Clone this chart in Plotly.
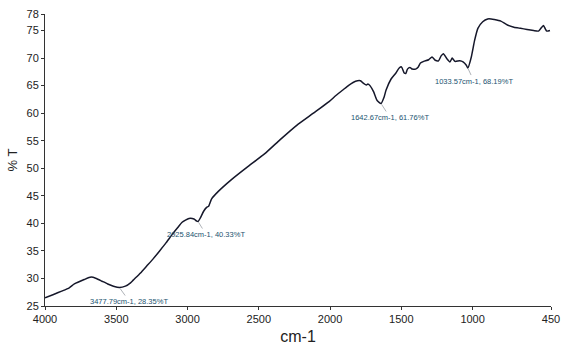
import plotly.graph_objects as go

wavenumber = [4000, 3940, 3883, 3830, 3794, 3725, 3677, 3640, 3600, 3560, 3520, 3477.79,
              3436, 3400, 3381, 3330, 3285, 3240, 3196, 3150, 3107, 3070, 3038, 2990,
              2955, 2935, 2925.84, 2910, 2887, 2866, 2852, 2832, 2784, 2694, 2577, 2460,
              2350, 2234, 2117, 2007, 1959, 1911, 1867, 1821, 1787, 1765, 1745, 1735,
              1720, 1695, 1670, 1642.67, 1620, 1607, 1572, 1538, 1515, 1499, 1480, 1469,
              1457, 1440, 1423, 1400, 1381, 1366, 1343, 1308, 1285, 1262, 1239, 1221,
              1205, 1181, 1159, 1143, 1124, 1090, 1067, 1044, 1033.57, 1009, 986, 963,
              929, 894, 870, 848, 802, 756, 710, 664, 618, 572, 538, 515, 503, 490,
              480, 457]
transmittance = [26.5, 27.1, 27.7, 28.3, 29.0, 29.8, 30.25, 30.0, 29.5, 29.0, 28.6, 28.35,
                 28.6, 29.2, 29.7, 31.0, 32.3, 33.6, 35.0, 36.5, 38.0, 39.2, 40.2, 40.9,
                 40.8, 40.4, 40.33, 41.0, 42.2, 42.9, 43.1, 44.4, 45.8, 47.9, 50.3, 52.6,
                 55.2, 57.8, 60.0, 62.1, 63.2, 64.2, 65.1, 65.8, 65.9, 65.4, 65.1, 65.3,
                 65.0, 63.9, 62.3, 61.76, 63.0, 64.2, 66.2, 67.3, 68.2, 68.4, 67.3, 67.2,
                 68.0, 68.3, 68.0, 68.0, 68.4, 69.1, 69.4, 69.7, 70.2, 69.6, 69.5, 70.4,
                 70.8, 69.9, 69.3, 70.0, 69.4, 69.5, 69.3, 68.7, 68.19, 70.2, 73.2, 75.4,
                 76.6, 77.1, 77.1, 77.0, 76.7, 76.0, 75.6, 75.4, 75.2, 75.0, 74.9, 75.6,
                 75.9, 75.3, 74.9, 75.0]

peak_wn = [3477.79, 2925.84, 1642.67, 1033.57]
peak_t = [28.35, 40.33, 61.76, 68.19]
peak_labels = ["3477.79cm-1, 28.35%T", "2925.84cm-1, 40.33%T",
               "1642.67cm-1, 61.76%T", "1033.57cm-1, 68.19%T"]
label_offsets = [(10, 14), (8, 13), (9, 14), (6, 13)]

x_ticks = [4000, 3500, 3000, 2500, 2000, 1500, 1000, 450]
y_ticks = [25, 30, 35, 40, 45, 50, 55, 60, 65, 70, 75, 78]

font_fam = "Liberation Sans Narrow, Liberation Sans, Arial, sans-serif"

fig = go.Figure()
fig.add_trace(go.Scatter(
    x=wavenumber, y=transmittance, mode="lines",
    line=dict(color="#15172a", width=1.5, shape="spline", smoothing=0.5),
    hoverinfo="skip", showlegend=False))

annotations = []
for wn, t, lab, (dx, dy) in zip(peak_wn, peak_t, peak_labels, label_offsets):
    annotations.append(dict(
        x=wn, y=t, xref="x", yref="y", text=lab, showarrow=True,
        arrowhead=0, arrowwidth=0.8, arrowcolor="#9aa0a6", ax=dx, ay=dy,
        standoff=1, font=dict(family=font_fam, size=7.5, color="#1b5370")))

fig.update_layout(
    width=568, height=350,
    margin=dict(l=45, r=12, t=8, b=38),
    paper_bgcolor="white", plot_bgcolor="white",
    font=dict(family=font_fam, size=11, color="#222222"),
    annotations=annotations,
    xaxis=dict(range=[4000, 450], tickvals=x_ticks, ticktext=[str(v) for v in x_ticks],
               showgrid=False, zeroline=False, showline=True, linecolor="#333333",
               linewidth=1, ticks="outside", ticklen=3, tickcolor="#333333",
               tickfont=dict(size=11),
               title=dict(text="cm-1", font=dict(size=16, family=font_fam), standoff=6)),
    yaxis=dict(range=[25, 78], tickvals=y_ticks, ticktext=[str(v) for v in y_ticks],
               showgrid=False, zeroline=False, showline=True, linecolor="#333333",
               linewidth=1, ticks="outside", ticklen=3, tickcolor="#333333",
               tickfont=dict(size=11),
               title=dict(text="% T", font=dict(size=13, family=font_fam), standoff=5)),
)

fig.write_html("out.html")
